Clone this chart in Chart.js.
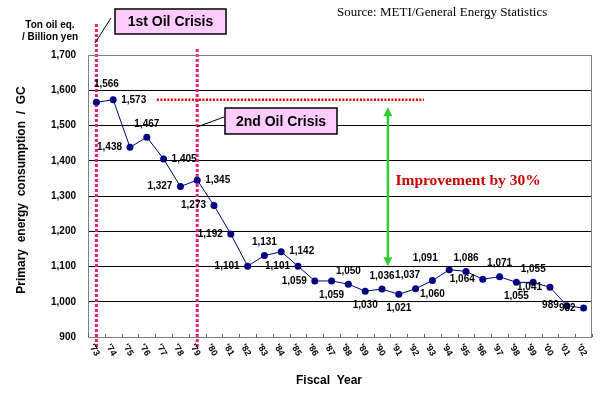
<!DOCTYPE html>
<html>
<head>
<meta charset="utf-8">
<script src="https://cdn.jsdelivr.net/npm/chart.js@4.4.1/dist/chart.umd.min.js"></script>
<style>
  body { margin: 0; background: #fff; }
  #wrap { width: 600px; height: 396px; }
</style>
</head>
<body>
<div id="wrap"><canvas id="energyChart"></canvas></div>
<script>
// fiscal years and primary energy consumption per GDP (ton oil eq. / billion yen)
const years = ["'73","'74","'75","'76","'77","'78","'79","'80","'81","'82","'83","'84","'85","'86","'87",
               "'88","'89","'90","'91","'92","'93","'94","'95","'96","'97","'98","'99","'00","'01","'02"];
const consumption = [1566, 1573, 1438, 1467, 1405, 1327, 1345, 1273, 1192, 1101, 1131, 1142, 1101, 1059, 1059,
                     1050, 1030, 1036, 1021, 1037, 1060, 1091, 1086, 1064, 1071, 1055, 1055, 1041, 989, 982];
const yTicks = [900, 1000, 1100, 1200, 1300, 1400, 1500, 1600, 1700];

// where each value label sits relative to its point
const labelSide = ['ar','r','l','a','r','l','r','l','l','l','a','r','l','l','b',
                   'a','b','a','b','al','b','aL','a','l','a','b','a','l','l','l'];

const ARIAL = 'Arial, "Liberation Sans", sans-serif';
const TIMES = '"Times New Roman", "Liberation Serif", serif';

function fmt(v) {
    return v.toLocaleString('en-US');
}

// vertical dotted marker lines, red horizontal reference, green arrow
const markerPlugin = {
    id: 'markers',
    beforeDatasetsDraw(chart) {
        const ctx = chart.ctx;
        const x = chart.scales.x, y = chart.scales.y;
        ctx.save();
        // oil crisis lines
        ctx.strokeStyle = '#e8207a';
        ctx.lineWidth = 3;
        ctx.setLineDash([3, 2]);
        [[0, 24], [6, 49]].forEach(([idx, top]) => {
            const px = x.getPixelForValue(idx);
            ctx.beginPath();
            ctx.moveTo(px, top);
            ctx.lineTo(px, 347);
            ctx.stroke();
        });
        // 1973-74 level
        ctx.strokeStyle = '#e00000';
        ctx.lineWidth = 2.5;
        ctx.setLineDash([2, 1.5]);
        const yl = y.getPixelForValue(consumption[1]);
        ctx.beginPath();
        ctx.moveTo(x.getPixelForValue(3.6), yl);
        ctx.lineTo(x.getPixelForValue(19.5), yl);
        ctx.stroke();
        ctx.setLineDash([]);
        // improvement arrow
        const ax = x.getPixelForValue(17.35);
        const y1 = y.getPixelForValue(1552), y2 = y.getPixelForValue(1101);
        ctx.strokeStyle = '#33cc33';
        ctx.fillStyle = '#33cc33';
        ctx.lineWidth = 2.5;
        ctx.beginPath();
        ctx.moveTo(ax, y1 + 8);
        ctx.lineTo(ax, y2 - 8);
        ctx.stroke();
        ctx.beginPath();
        ctx.moveTo(ax, y1); ctx.lineTo(ax - 4.5, y1 + 9); ctx.lineTo(ax + 4.5, y1 + 9); ctx.closePath();
        ctx.fill();
        ctx.beginPath();
        ctx.moveTo(ax, y2); ctx.lineTo(ax - 4.5, y2 - 9); ctx.lineTo(ax + 4.5, y2 - 9); ctx.closePath();
        ctx.fill();
        ctx.restore();
    }
};

// value labels next to points
const valueLabels = {
    id: 'valueLabels',
    afterDatasetsDraw(chart) {
        const ctx = chart.ctx;
        const pts = chart.getDatasetMeta(0).data;
        ctx.save();
        ctx.font = 'bold 10px ' + ARIAL;
        ctx.fillStyle = '#000';
        ctx.textBaseline = 'middle';
        pts.forEach((p, i) => {
            const side = labelSide[i];
            let tx = p.x, ty = p.y, align = 'center';
            if (side === 'a') { ty -= 13; }
            else if (side === 'b') { ty += 14; }
            else if (side === 'l') { tx -= 8; align = 'right'; }
            else if (side === 'r') { tx += 8; align = 'left'; }
            else if (side === 'ar') { tx += 10; ty -= 18; }
            else if (side === 'al') { tx -= 8; ty -= 13; }
            else if (side === 'aL') { tx -= 24; ty -= 11; }
            ctx.textAlign = align;
            ctx.fillText(fmt(consumption[i]), tx, ty);
        });
        ctx.restore();
    }
};

// frame, axis titles, tick labels, call-out boxes
const decorations = {
    id: 'decorations',
    afterDraw(chart) {
        const ctx = chart.ctx;
        const a = chart.chartArea;
        const x = chart.scales.x, y = chart.scales.y;
        ctx.save();
        ctx.strokeStyle = '#808080';
        ctx.lineWidth = 1;
        ctx.strokeRect(a.left + 0.5, a.top + 0.5, a.right - a.left - 1, a.bottom - a.top);

        // small x tick marks
        ctx.strokeStyle = '#606060';
        ctx.beginPath();
        for (let i = 0; i <= years.length; i++) {
            const px = Math.round(x.getPixelForValue(i - 0.5)) + 0.5;
            ctx.moveTo(px, a.bottom);
            ctx.lineTo(px, a.bottom - 3);
        }
        ctx.stroke();

        // rotated year labels
        ctx.fillStyle = '#000';
        ctx.font = 'bold 9px ' + ARIAL;
        ctx.textAlign = 'center';
        ctx.textBaseline = 'middle';
        years.forEach((lab, i) => {
            ctx.save();
            ctx.translate(x.getPixelForValue(i) - 2, a.bottom + 13);
            ctx.rotate(Math.PI / 3);
            ctx.fillText(lab, 0, 0);
            ctx.restore();
        });

        // titles
        ctx.font = 'bold 12px ' + ARIAL;
        ctx.fillText('Fiscal  Year', 329, 381);
        ctx.save();
        ctx.translate(22, 190);
        ctx.rotate(-Math.PI / 2);
        ctx.font = 'bold 12px ' + ARIAL;
        ctx.fillText('Primary  energy  consumption  /  GC', 0, 0);
        ctx.restore();
        ctx.font = 'bold 10px ' + ARIAL;
        ctx.fillText('Ton oil eq.', 50, 25);
        ctx.fillText('/ Billion yen', 50, 37);
        ctx.font = '13px ' + TIMES;
        ctx.textAlign = 'left';
        ctx.fillText('Source: METI/General Energy Statistics', 337, 13);

        ctx.font = 'bold 15.5px ' + TIMES;
        ctx.fillStyle = '#cc0000';
        ctx.fillText('Improvement by 30%', x.getPixelForValue(17.8), y.getPixelForValue(1343));

        // leader lines
        ctx.strokeStyle = '#000';
        ctx.lineWidth = 1;
        ctx.beginPath();
        ctx.moveTo(95, 43); ctx.lineTo(111, 18);
        ctx.moveTo(197, 127); ctx.lineTo(224, 117);
        ctx.stroke();

        // call-out boxes
        [['1st Oil Crisis', 115, 9, 111, 25], ['2nd Oil Crisis', 225, 108, 112, 26]].forEach(([t, bx, by, bw, bh]) => {
            ctx.fillStyle = '#ffccff';
            ctx.fillRect(bx, by, bw, bh);
            ctx.strokeStyle = '#000';
            ctx.lineWidth = 1.5;
            ctx.strokeRect(bx, by, bw, bh);
            ctx.fillStyle = '#000';
            ctx.font = 'bold 14px ' + ARIAL;
            ctx.textAlign = 'center';
            ctx.fillText(t, bx + bw / 2, by + bh / 2 + 1);
        });
        ctx.restore();
    }
};

new Chart('energyChart', {
    type: 'line',
    data: {
        labels: years,
        datasets: [{
            data: consumption,
            borderColor: '#000080',
            backgroundColor: '#000080',
            borderWidth: 1,
            pointRadius: 3.5,
            pointBackgroundColor: '#000080',
            pointBorderWidth: 0,
            tension: 0,
            clip: false
        }]
    },
    options: {
        responsive: true,
        maintainAspectRatio: false,
        animation: false,
        layout: { padding: { top: 55, right: 8, left: 0, bottom: 0 } },
        plugins: {
            legend: { display: false },
            tooltip: { enabled: false }
        },
        scales: {
            x: {
                offset: true,
                grid: { display: false },
                border: { display: false },
                ticks: { display: false },
                afterFit(scale) { scale.height = 59; }
            },
            y: {
                min: yTicks[0],
                max: yTicks[yTicks.length - 1],
                afterBuildTicks(scale) { scale.ticks = yTicks.map(v => ({ value: v })); },
                ticks: {
                    color: '#000',
                    padding: 12,
                    font: { family: ARIAL, size: 10, weight: 'bold' },
                    callback: v => fmt(v)
                },
                grid: {
                    drawTicks: false,
                    color: c => (c.tick.value === 900 || c.tick.value === 1700) ? 'rgba(0,0,0,0)' : '#000'
                },
                border: { display: false },
                afterFit(scale) { scale.width = 88; }
            }
        }
    },
    plugins: [markerPlugin, valueLabels, decorations]
});
</script>
</body>
</html>
